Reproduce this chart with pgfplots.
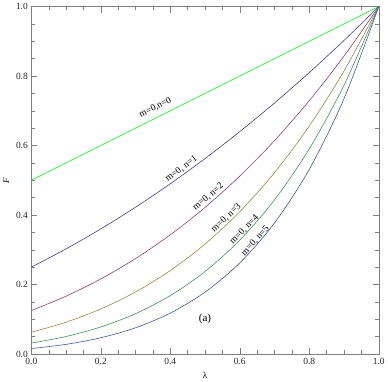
\documentclass[border=0pt]{standalone}
\usepackage{fontspec}
\setmainfont{Liberation Serif}
\usepackage{pgfplots}
\pgfplotsset{compat=1.18}
\usepackage{pgfplotstable}

% Mathematica default hues (s=0.6, v=0.6)
\definecolor{cZero}{rgb}{0,1,0}
\definecolor{cOne}{rgb}{0.247,0.24,0.6}
\definecolor{cTwo}{rgb}{0.6,0.24,0.443}
\definecolor{cThree}{rgb}{0.6,0.547,0.24}
\definecolor{cFour}{rgb}{0.24,0.6,0.337}
\definecolor{cFive}{rgb}{0.24,0.353,0.6}

\pgfplotstableread{
lam  n0    n1      n2        n3         n4         n5
0.0  0.50  0.25    0.125     0.0625     0.03125    0.015625
0.1  0.55  0.3025  0.166375  0.0915063  0.0503284  0.0276806
0.2  0.60  0.36    0.216     0.1296     0.07776    0.046656
0.3  0.65  0.4225  0.274625  0.1785063  0.1160291  0.0754189
0.4  0.70  0.49    0.343     0.2401     0.16807    0.117649
0.5  0.75  0.5625  0.421875  0.3164063  0.2373047  0.1779785
0.6  0.80  0.64    0.512     0.4096     0.32768    0.262144
0.7  0.85  0.7225  0.614125  0.5220063  0.4437053  0.3771495
0.8  0.90  0.81    0.729     0.6561     0.59049    0.531441
0.9  0.95  0.9025  0.857375  0.8145063  0.7737809  0.7350919
1.0  1.00  1.0     1.0       1.0        1.0        1.0
}\curves

\begin{document}
\begin{tikzpicture}
\begin{axis}[
    scale only axis,
    width=348bp, height=348bp,
    xmin=0, xmax=1, ymin=0, ymax=1,
    xtick={0,0.2,...,1.0}, ytick={0,0.2,...,1.0},
    minor x tick num=3, minor y tick num=3,
    tick align=inside,
    major tick length=6bp, minor tick length=3.5bp,
    axis line style={gray},
    every tick/.style={gray},
    /pgf/number format/assume math mode=true,
    /pgf/number format/fixed,
    /pgf/number format/fixed zerofill,
    /pgf/number format/precision=1,
    tick label style={font=\fontsize{9.5}{10}\selectfont, text=black!85},
    xticklabel style={yshift=-1bp},
    xlabel={λ}, ylabel={\textit{F}},
    label style={font=\fontsize{9}{10}\selectfont},
    every axis plot/.append style={line width=0.6pt, no marks, smooth},
]
\addplot[cZero] table[x=lam, y=n0] {\curves};
\addplot[cOne] table[x=lam, y=n1] {\curves};
\addplot[cTwo] table[x=lam, y=n2] {\curves};
\addplot[cThree] table[x=lam, y=n3] {\curves};
\addplot[cFour] table[x=lam, y=n4] {\curves};
\addplot[cFive] table[x=lam, y=n5] {\curves};

\begin{scope}[every node/.style={font=\fontsize{9.5}{10}\selectfont, inner sep=0pt}]
\node[rotate=26.5] at (axis cs:0.357,0.709) {m=0,n=0};
\node[rotate=36] at (axis cs:0.432,0.533) {m=0, n=1};
\node[rotate=40] at (axis cs:0.509,0.452) {m=0, n=2};
\node[rotate=43] at (axis cs:0.561,0.392) {m=0, n=3};
\node[rotate=46] at (axis cs:0.613,0.357) {m=0, n=4};
\node[rotate=48] at (axis cs:0.645,0.326) {m=0, n=5};
\node[font=\fontsize{11}{12}\selectfont] at (axis cs:0.50,0.10) {(a)};
\end{scope}
\end{axis}
\end{tikzpicture}
\end{document}
